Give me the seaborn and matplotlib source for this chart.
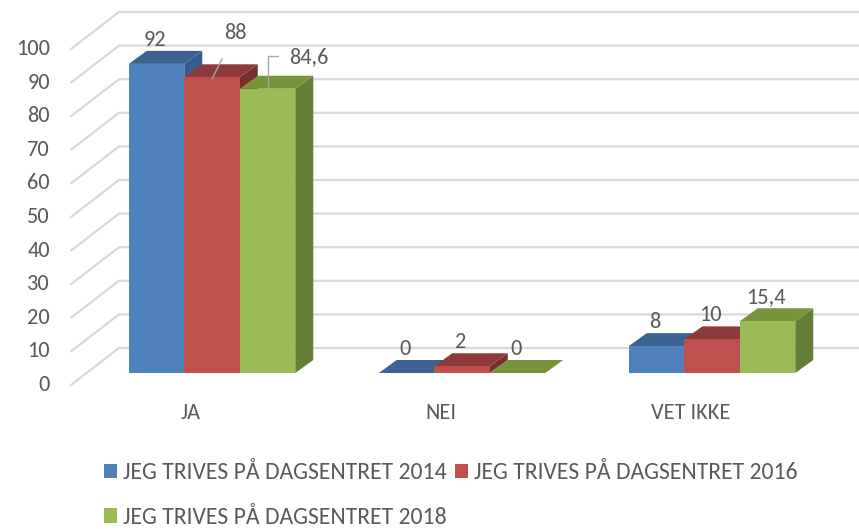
import matplotlib
matplotlib.use("Agg")
import matplotlib.pyplot as plt
from matplotlib.patches import Polygon, Patch
import seaborn as sns
import numpy as np
import pandas as pd

#%% data
categories = ["JA", "NEI", "VET IKKE"]
series = ["JEG TRIVES PÅ DAGSENTRET 2014",
          "JEG TRIVES PÅ DAGSENTRET 2016",
          "JEG TRIVES PÅ DAGSENTRET 2018"]
values_2014 = [92, 0, 8]
values_2016 = [88, 2, 10]
values_2018 = [84.6, 0, 15.4]
yticks = [0, 10, 20, 30, 40, 50, 60, 70, 80, 90, 100]

front_colors = ["#4F81BD", "#C0504D", "#9BBB59"]
top_colors = ["#3C6292", "#8E3A38", "#77933C"]
side_colors = ["#385D8A", "#772F2D", "#657E36"]
text_color = "#595959"
grid_color = "#D9D9D9"

df = pd.DataFrame({
    "category": categories * 3,
    "series": np.repeat(series, 3),
    "value": values_2014 + values_2016 + values_2018,
})

#%% style
sns.set_theme(style="white")
plt.rcParams["font.family"] = ["Carlito", "Open Sans", "DejaVu Sans"]

fig = plt.figure(figsize=(8.59, 5.29), dpi=100)
ax = fig.add_axes([87 / 859, 1 - 373 / 529, 750 / 859, 336 / 529])

sns.barplot(data=df, x="category", y="value", hue="series", palette=front_colors,
            width=0.666, saturation=1, ax=ax, legend=False, linewidth=0, zorder=10)

ax.set_xlim(-0.5, 2.5)
ax.set_ylim(0, 100)
ax.axis("off")

# depth offsets (data units)
bar_dx, bar_dy = 0.072, 3.87
wall_dx, wall_dy = 0.128, 7.44
front_dx, front_dy = -0.064, -3.57

# perspective grid: left wall diagonals + back wall lines
for v in yticks:
    x0, y0 = -0.5 + front_dx, v + front_dy
    x1, y1 = -0.5 + wall_dx, v + wall_dy
    ax.plot([x0, x1, 3.0], [y0, y1, y1], color=grid_color, lw=1.6,
            clip_on=False, zorder=1, solid_joinstyle="miter")
    ax.text(-0.648, v + front_dy, str(v), ha="right", va="center",
            fontsize=16, color=text_color)

# 3D faces for every bar, drawn left to right
rgb_front = [tuple(np.round(matplotlib.colors.to_rgb(c), 3)) for c in front_colors]
patches = sorted(ax.patches, key=lambda p: p.get_x())
for i, p in enumerate(patches):
    hue_idx = rgb_front.index(tuple(np.round(p.get_facecolor()[:3], 3)))
    x, w, h = p.get_x(), p.get_width(), p.get_height()
    z = 10 + i * 3
    top = Polygon([(x, h), (x + w, h), (x + w + bar_dx, h + bar_dy), (x + bar_dx, h + bar_dy)],
                  closed=True, facecolor=top_colors[hue_idx], edgecolor="none",
                  zorder=z, clip_on=False)
    side = Polygon([(x + w, 0), (x + w + bar_dx, bar_dy), (x + w + bar_dx, h + bar_dy), (x + w, h)],
                   closed=True, facecolor=side_colors[hue_idx], edgecolor="none",
                   zorder=z, clip_on=False)
    ax.add_patch(side)
    ax.add_patch(top)
    p.set_zorder(z + 1)

# data labels
for p in patches:
    xc = p.get_x() + p.get_width() / 2
    h = p.get_height()
    txt = f"{h:g}".replace(".", ",")
    if abs(h - 88) < 1e-6:
        ax.annotate(txt, xy=(xc, h - 0.5), xytext=(xc + 0.092, h + 13.2),
                    ha="center", va="center", fontsize=16, color=text_color,
                    arrowprops=dict(arrowstyle="-", color="#A6A6A6", lw=1,
                                    shrinkA=10, shrinkB=0), zorder=60)
    elif abs(h - 84.6) < 1e-6:
        ax.plot([xc, xc, xc + 0.04], [h - 0.1, h + 9.7, h + 9.7], color="#A6A6A6",
                lw=1, zorder=60, clip_on=False)
        ax.text(xc + 0.166, h + 9.4, txt, ha="center", va="center",
                fontsize=16, color=text_color, zorder=60)
    else:
        ax.text(xc - 0.005, h + 7.2, txt, ha="center", va="center",
                fontsize=16, color=text_color, zorder=60)

# category labels on the front floor edge
for i, c in enumerate(categories):
    ax.text(i - 0.084, -11.8, c, ha="center", va="center", fontsize=16,
            color=text_color)

# legend (row-wise order: 2014, 2016 / 2018)
handles = [Patch(facecolor=front_colors[k], edgecolor="none") for k in range(3)]
order = [0, 2, 1]
fig.legend([handles[k] for k in order], [series[k] for k in order],
           ncol=2, loc="center left", bbox_to_anchor=(92 / 859, 1 - 495 / 529),
           frameon=False, fontsize=17, labelcolor=text_color,
           handlelength=0.55, handleheight=0.55, handletextpad=0.25,
           columnspacing=0.38, labelspacing=1.0, borderpad=0)

fig.savefig("out.png", dpi=100)
